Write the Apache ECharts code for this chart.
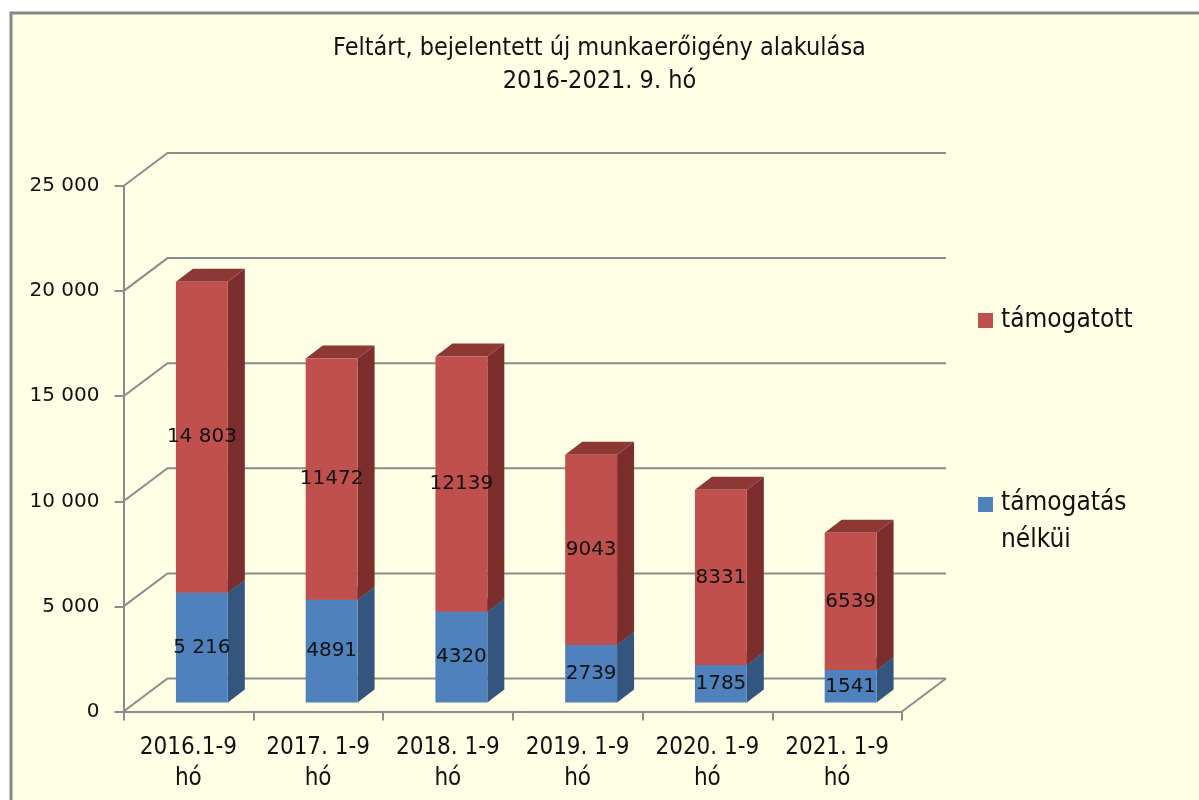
<!DOCTYPE html>
<html>
<head>
<meta charset="utf-8">
<script src="https://cdn.jsdelivr.net/npm/echarts@6/dist/echarts.min.js"></script>
<style>
html,body{margin:0;padding:0;background:#fff;}
#chart{width:1199px;height:800px;}
</style>
</head>
<body>
<div id="chart"></div>
<script>
const categories = ['2016.1-9\nhó', '2017. 1-9\nhó', '2018. 1-9\nhó', '2019. 1-9\nhó', '2020. 1-9\nhó', '2021. 1-9\nhó'];
const blueValues = [5216, 4891, 4320, 2739, 1785, 1541];
const redValues = [14803, 11472, 12139, 9043, 8331, 6539];
const blueLabels = ['5 216', '4891', '4320', '2739', '1785', '1541'];
const redLabels = ['14 803', '11472', '12139', '9043', '8331', '6539'];
const yTicks = [0, 5000, 10000, 15000, 20000, 25000];
const seriesNames = ['támogatás nélküi', 'támogatott'];

const NARROW = "'DejaVu Sans Condensed', 'Liberation Sans Narrow', 'DejaVu Sans', sans-serif";
const WIDE = "'DejaVu Sans', Verdana, sans-serif";
const GRID_COLOR = '#8c8c8c';
// 3D offsets (pixels)
const WALL_DX = 44, WALL_DY = -33;
const BAR_SX = 13.5, BAR_SY = -9;
const DEPTH_DX = 17, DEPTH_DY = -13;

const palette = {
  blue: {front: '#4F81BD', side: '#34557D', top: '#3F6797'},
  red: {front: '#C0504D', side: '#7B2E2C', top: '#8D3835'}
};

function barRenderer(colors, labels) {
  return function (params, api) {
    const i = api.value(0);
    const lo = api.coord([i, api.value(1)]);
    const hi = api.coord([i, api.value(2)]);
    const bw = api.size([1, 0])[0] * 0.4;
    const x0 = lo[0] - bw / 2 + BAR_SX;
    const yb = lo[1] + BAR_SY;
    const yt = hi[1] + BAR_SY;
    return {
      type: 'group',
      children: [
        {type: 'polygon', shape: {points: [[x0 + bw, yb], [x0 + bw + DEPTH_DX, yb + DEPTH_DY], [x0 + bw + DEPTH_DX, yt + DEPTH_DY], [x0 + bw, yt]]}, style: {fill: colors.side}},
        {type: 'polygon', shape: {points: [[x0, yt], [x0 + DEPTH_DX, yt + DEPTH_DY], [x0 + bw + DEPTH_DX, yt + DEPTH_DY], [x0 + bw, yt]]}, style: {fill: colors.top}},
        {type: 'rect', shape: {x: x0, y: yt, width: bw, height: yb - yt}, style: {fill: colors.front}},
        {type: 'text', z2: 10, style: {text: labels[i], x: x0 + bw / 2, y: (yt + yb) / 2, align: 'center', verticalAlign: 'middle', font: '20px ' + WIDE, fill: '#111111'}}
      ]
    };
  };
}

function wallRenderer(params, api) {
  const c = params.coordSys;
  const y = api.coord([0, api.value(1)])[1];
  const children = [{
    type: 'polyline',
    shape: {points: [[c.x, y], [c.x + WALL_DX, y + WALL_DY], [c.x + c.width + WALL_DX, y + WALL_DY]]},
    style: {stroke: GRID_COLOR, lineWidth: 2, fill: null}
  }];
  if (api.value(1) === 0) {
    children.push({
      type: 'line',
      shape: {x1: c.x + c.width, y1: y, x2: c.x + c.width + WALL_DX, y2: y + WALL_DY},
      style: {stroke: GRID_COLOR, lineWidth: 2}
    });
  }
  return {type: 'group', children: children};
}

const chart = echarts.init(document.getElementById('chart'));
chart.setOption({
  backgroundColor: '#ffffff',
  animation: false,
  title: {
    text: 'Feltárt, bejelentett új munkaerőigény alakulása\n2016-2021. 9. hó',
    left: 'center',
    top: 27,
    textStyle: {fontFamily: NARROW, fontSize: 25, fontWeight: 'normal', color: '#111111', lineHeight: 33, align: 'center'}
  },
  grid: {left: 123.5, right: 297, top: 186, bottom: 88.5},
  xAxis: {
    type: 'category',
    data: categories,
    axisLine: {lineStyle: {color: GRID_COLOR, width: 2}},
    axisTick: {show: true, length: 9, lineStyle: {color: GRID_COLOR, width: 2}},
    axisLabel: {fontFamily: NARROW, fontSize: 24, color: '#111111', lineHeight: 31, margin: 21, interval: 0}
  },
  yAxis: {
    type: 'value',
    min: 0, max: 25000, interval: 5000,
    axisLine: {show: true, lineStyle: {color: GRID_COLOR, width: 2}},
    axisTick: {show: true, length: 9, lineStyle: {color: GRID_COLOR, width: 2}},
    splitLine: {show: false},
    axisLabel: {
      fontFamily: WIDE, fontSize: 20, color: '#111111', margin: 24,
      formatter: function (v) { return v >= 1000 ? Math.floor(v / 1000) + ' ' + String(v % 1000).padStart(3, '0') : String(v); }
    }
  },
  graphic: [
    {type: 'rect', z: -10, silent: true, shape: {x: 11, y: 13, width: 1300, height: 900}, style: {fill: '#FFFFE6', stroke: '#888888', lineWidth: 3}},
    {type: 'rect', shape: {x: 978, y: 313, width: 15, height: 15}, style: {fill: palette.red.front}},
    {type: 'text', style: {x: 1001, y: 320, text: seriesNames[1], font: '26px ' + NARROW, fill: '#111111', verticalAlign: 'middle'}},
    {type: 'rect', shape: {x: 978, y: 497, width: 15, height: 15}, style: {fill: palette.blue.front}},
    {type: 'text', style: {x: 1001, y: 485, text: 'támogatás\nnélküi', font: '26px ' + NARROW, lineHeight: 37, fill: '#111111', verticalAlign: 'top'}}
  ],
  series: [
    {
      type: 'custom', name: 'wall', silent: true, z: 1,
      data: yTicks.map(function (v) { return [0, v]; }),
      encode: {x: 0, y: 1},
      renderItem: wallRenderer
    },
    {
      type: 'custom', name: seriesNames[0], z: 3,
      itemStyle: {color: palette.blue.front},
      data: blueValues.map(function (v, i) { return [i, 0, v]; }),
      encode: {x: 0, y: [1, 2]},
      renderItem: barRenderer(palette.blue, blueLabels)
    },
    {
      type: 'custom', name: seriesNames[1], z: 4,
      itemStyle: {color: palette.red.front},
      data: redValues.map(function (v, i) { return [i, blueValues[i], blueValues[i] + v]; }),
      encode: {x: 0, y: [1, 2]},
      renderItem: barRenderer(palette.red, redLabels)
    }
  ]
});
</script>
</body>
</html>
